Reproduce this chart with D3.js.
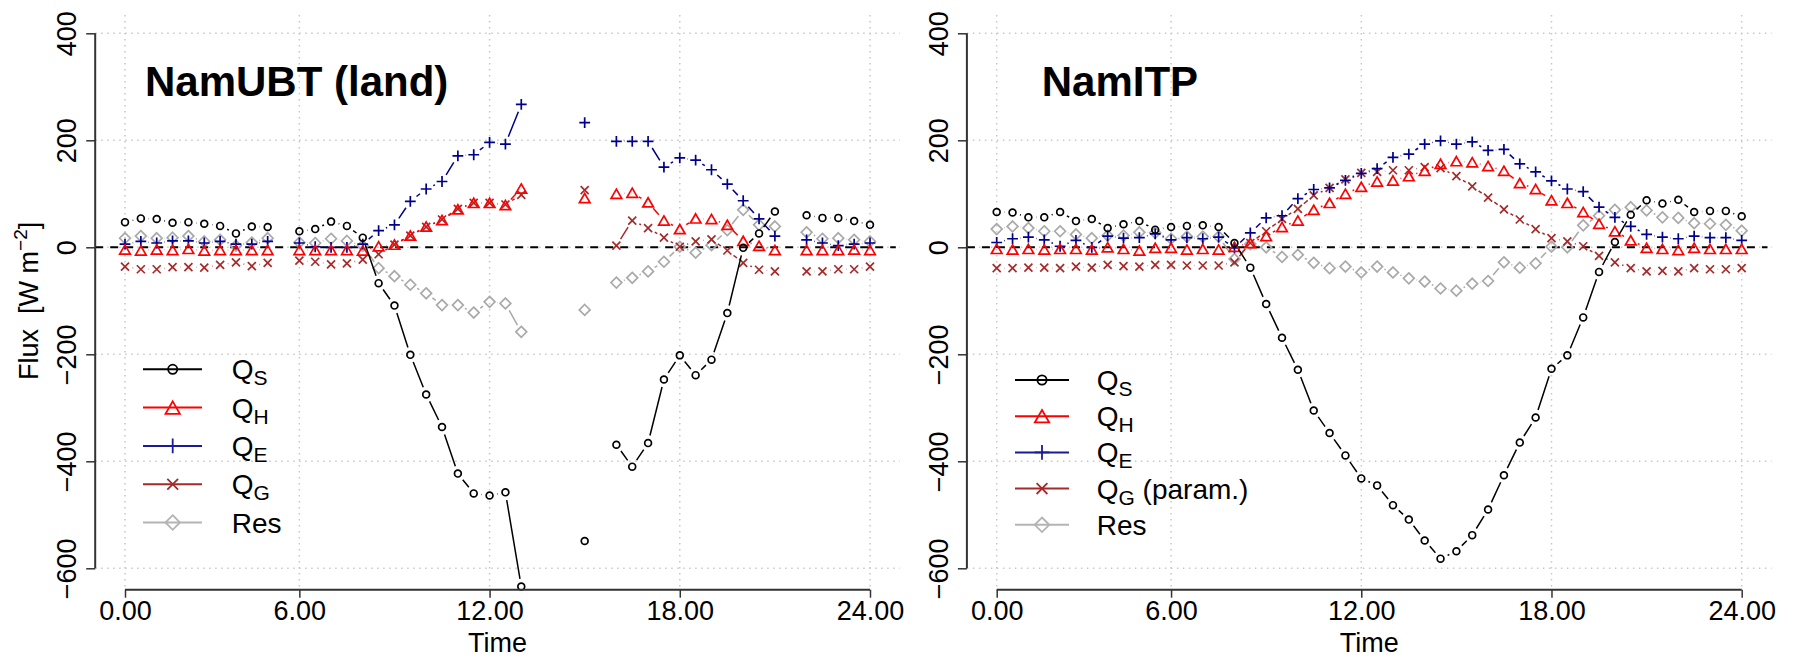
<!DOCTYPE html>
<html>
<head>
<meta charset="utf-8">
<script src="https://cdn.jsdelivr.net/npm/d3@7"></script>
<style>
  html, body { margin: 0; padding: 0; background: #fff; }
  svg text { font-family: "Liberation Sans", Arial, Helvetica, sans-serif; }
</style>
</head>
<body>
<svg id="chart" width="1796" height="659"></svg>
<script>
// Half-hourly slots of the diurnal cycle (1 = first record of the day)
const slot = [1,2,3,4,5,6,7,8,9,10,11,12,13,14,15,16,17,18,19,20,21,22,23,24,
              25,26,27,28,29,30,31,32,33,34,35,36,37,38,39,40,41,42,43,44,45,46,47,48];

// Axis ticks
const xTickAt = [1, 12, 24, 36, 48];
const xTickLabels = ["0.00", "6.00", "12.00", "18.00", "24.00"];
const yTickAt = [-600, -400, -200, 0, 200, 400];
const yTickLabels = ["\u2212600", "\u2212400", "\u2212200", "0", "200", "400"];

// NamUBT (land) fluxes, W m-2 (null = missing record)
const qsLand = [47,54,53,46,47,44,40,26,39,38,null,30,34,48,40,18,-67,-109,-201,-275,-336,-423,-460,-464,
                -458,-634,null,null,null,-549,null,-369,-410,-366,-247,-202,-239,-210,-123,-1,26,67,null,60,55,55,49,42];
const qhLand = [-4,-6,-4,-5,-3,-6,-5,-5,-5,-5,null,-5,-5,-5,-5,-6,2,5,22,39,51,71,83,83,
                79,110,null,null,null,92,null,100,102,84,50,34,54,53,42,12,3,-5,null,-5,-5,-5,-4,-5];
const qeLand = [6,11,8,12,12,8,11,6,6,11,null,8,1,0,0,6,31,42,86,109,123,171,173,196,
                193,267,null,null,null,233,null,198,198,198,150,167,163,145,118,87,53,21,null,14,8,3,6,8];
const qgLand = [-36,-41,-41,-37,-37,-38,-33,-28,-35,-29,null,-25,-27,-32,-30,-23,-13,5,22,38,52,72,83,83,
                80,98,null,null,null,107,null,3,50,36,18,1,11,15,-6,-29,-42,-45,null,-45,-45,-41,-41,-36];
const resLand = [17,21,17,18,21,11,14,3,9,17,null,9,8,16,12,3,-39,-54,-70,-86,-108,-108,-122,-102,
                 -105,-158,null,null,null,-117,null,-66,-57,-45,-27,1,-10,4,32,70,42,39,null,28,16,17,14,11];

// NamITP fluxes, W m-2 (ground heat flux parameterised)
const qsItp = [66,65,56,56,66,49,53,36,43,49,33,38,40,41,38,8,-38,-106,-169,-229,-305,-347,-389,-432,
               -445,-482,-509,-548,-582,-568,-538,-490,-426,-365,-318,-227,-202,-131,-46,10,61,88,82,89,66,68,68,58];
const qhItp = [-3,-4,-3,-4,-3,-3,-4,0,-3,-6,-1,-1,-4,-3,-4,1,8,21,38,50,70,83,100,113,
               123,125,133,143,156,161,159,152,143,120,109,88,83,66,44,30,13,-1,-3,-5,-1,-3,-3,-3];
const qeItp = [9,16,19,14,2,13,0,21,17,18,25,14,18,16,19,-1,27,55,59,91,108,111,125,138,
               147,168,174,193,199,193,197,181,183,156,141,124,109,104,75,56,39,24,19,16,21,18,18,13];
const qgItp = [-39,-39,-38,-38,-39,-36,-38,-33,-35,-36,-33,-33,-34,-34,-34,-28,8,30,53,72,97,111,127,139,
               141,144,144,150,148,133,114,93,71,52,34,17,11,2,-16,-28,-39,-45,-44,-45,-39,-41,-41,-39];
const resItp = [34,39,36,30,30,24,17,22,22,28,27,16,20,20,20,-22,6,0,-18,-14,-29,-39,-36,-47,
                -36,-47,-58,-64,-77,-81,-68,-63,-28,-38,-30,1,0,41,59,70,75,69,56,55,45,44,42,31];

// Series styling (drawing order: first drawn at the bottom)
const seriesStyle = {
  Res: { color: "#a9a9a9", legendColor: "#b4b4b4", shape: "diamond" },
  QG:  { color: "#a52a2a", legendColor: "#a52a2a", shape: "cross" },
  QE:  { color: "#00008b", legendColor: "#1a1a9a", shape: "plus" },
  QH:  { color: "#ff0000", legendColor: "#ff0000", shape: "triangle" },
  QS:  { color: "#000000", legendColor: "#000000", shape: "circle" }
};
const drawOrder = ["Res", "QG", "QE", "QH", "QS"];
const legendOrder = ["QS", "QH", "QE", "QG", "Res"];

const panels = [
  { title: "NamUBT (land)", titleX: 145, left: 95.2, right: 899.8, yTitle: true,
    data: { QS: qsLand, QH: qhLand, QE: qeLand, QG: qgLand, Res: resLand },
    legend: { x0: 143, x1: 202, mx: 172.7, tx: 231.7, y0: 369.3, dy: 38.3, fs: 28, gSuffix: "" } },
  { title: "NamITP", titleX: 1041.7, left: 966.9, right: 1771.5, yTitle: false,
    data: { QS: qsItp, QH: qhItp, QE: qeItp, QG: qgItp, Res: resItp },
    legend: { x0: 1015, x1: 1069, mx: 1042, tx: 1096.7, y0: 380, dy: 36.2, fs: 28, gSuffix: " (param.)" } }
];

const svg = d3.select("#chart");
svg.append("rect").attr("width", 1796).attr("height", 659).attr("fill", "#fff");

const yTop = 11.9, yBottom = 589.7;
const y = d3.scaleLinear().domain([-640, 440]).range([yBottom, yTop]);

const axisFont = 27;
const gridColor = "#c8c8c8";

function drawMarker(g, shape, cx, cy, k, color, sw) {
  const p = d3.path();
  if (shape === "circle") {
    g.append("circle").attr("cx", cx).attr("cy", cy).attr("r", 3.4 * k)
      .attr("fill", "none").attr("stroke", color).attr("stroke-width", sw);
    return;
  }
  if (shape === "triangle") {
    const hw = 5.3 * k, hh = 4.6 * k;
    p.moveTo(cx, cy - hh); p.lineTo(cx + hw, cy + hh); p.lineTo(cx - hw, cy + hh); p.closePath();
  } else if (shape === "plus") {
    const s = 5.4 * k;
    p.moveTo(cx - s, cy); p.lineTo(cx + s, cy); p.moveTo(cx, cy - s); p.lineTo(cx, cy + s);
  } else if (shape === "cross") {
    const s = 4.0 * k;
    p.moveTo(cx - s, cy - s); p.lineTo(cx + s, cy + s); p.moveTo(cx - s, cy + s); p.lineTo(cx + s, cy - s);
  } else if (shape === "diamond") {
    const s = 5.4 * k;
    p.moveTo(cx, cy - s); p.lineTo(cx + s, cy); p.lineTo(cx, cy + s); p.lineTo(cx - s, cy); p.closePath();
  }
  g.append("path").attr("d", p.toString()).attr("fill", "none")
    .attr("stroke", color).attr("stroke-width", sw).attr("stroke-linejoin", "miter");
}

panels.forEach(panel => {
  const x = d3.scaleLinear()
    .domain([1 - 0.04 * 47, 48 + 0.04 * 47])
    .range([panel.left, panel.right]);
  const g = svg.append("g");

  // dotted grid
  const grid = g.append("g").attr("stroke", gridColor).attr("stroke-width", 1.5)
    .attr("stroke-dasharray", "1.5 4.5").attr("fill", "none");
  xTickAt.forEach(t => grid.append("line")
    .attr("x1", x(t)).attr("x2", x(t)).attr("y1", yTop + 3).attr("y2", yBottom));
  yTickAt.forEach(t => grid.append("line")
    .attr("x1", panel.left).attr("x2", panel.right).attr("y1", y(t)).attr("y2", y(t)));

  // zero reference line
  g.append("line").attr("x1", panel.left).attr("x2", panel.right - 4)
    .attr("y1", y(0)).attr("y2", y(0))
    .attr("stroke", "#000").attr("stroke-width", 2).attr("stroke-dasharray", "8 7");

  // series: lines with gaps around the symbols, then symbols
  const gap = 7.8;
  drawOrder.forEach(key => {
    const st = seriesStyle[key];
    const vals = panel.data[key];
    const sg = g.append("g");
    const lp = d3.path();
    for (let i = 0; i < vals.length - 1; i++) {
      if (vals[i] == null || vals[i + 1] == null) continue;
      const x1 = x(slot[i]), y1 = y(vals[i]), x2 = x(slot[i + 1]), y2 = y(vals[i + 1]);
      const d = Math.hypot(x2 - x1, y2 - y1);
      if (d <= 2 * gap) continue;
      const ux = (x2 - x1) / d, uy = (y2 - y1) / d;
      lp.moveTo(x1 + ux * gap, y1 + uy * gap);
      lp.lineTo(x2 - ux * gap, y2 - uy * gap);
    }
    sg.append("path").attr("d", lp.toString()).attr("fill", "none")
      .attr("stroke", st.color).attr("stroke-width", 1.5);
    vals.forEach((v, i) => {
      if (v == null) return;
      drawMarker(sg, st.shape, x(slot[i]), y(v), 1, st.color, 1.7);
    });
  });

  // x axis
  const xAxis = d3.axisBottom(x).tickValues(xTickAt)
    .tickFormat((d, i) => xTickLabels[i]).tickSize(8).tickPadding(3);
  const gx = g.append("g").attr("transform", `translate(0,${yBottom})`).call(xAxis);
  gx.select(".domain").remove();
  gx.append("line").attr("x1", x(xTickAt[0])).attr("x2", x(xTickAt[xTickAt.length - 1]))
    .attr("y1", 0).attr("y2", 0).attr("stroke", "#333").attr("stroke-width", 2);
  gx.selectAll(".tick line").attr("stroke", "#333").attr("stroke-width", 1.5);
  gx.selectAll(".tick text").attr("fill", "#000").style("font-size", axisFont + "px")
    .style("font-family", '"Liberation Sans", Arial, sans-serif');

  // y axis, labels parallel to the axis
  const yAxis = d3.axisLeft(y).tickValues(yTickAt)
    .tickFormat((d, i) => yTickLabels[i]).tickSize(9);
  const gy = g.append("g").attr("transform", `translate(${panel.left},0)`).call(yAxis);
  gy.select(".domain").remove();
  gy.append("line").attr("x1", 0).attr("x2", 0)
    .attr("y1", y(yTickAt[yTickAt.length - 1])).attr("y2", y(yTickAt[0]))
    .attr("stroke", "#333").attr("stroke-width", 2);
  gy.selectAll(".tick line").attr("stroke", "#333").attr("stroke-width", 1.5);
  gy.selectAll(".tick text")
    .attr("transform", "rotate(-90)").attr("x", 0).attr("y", -19).attr("dy", 0)
    .attr("text-anchor", "middle").attr("fill", "#000")
    .style("font-size", axisFont + "px")
    .style("font-family", '"Liberation Sans", Arial, sans-serif');

  // axis titles
  g.append("text").attr("x", (panel.left + panel.right) / 2).attr("y", 652)
    .attr("text-anchor", "middle").style("font-size", axisFont + "px").text("Time");

  if (panel.yTitle) {
    const yt = g.append("text")
      .attr("transform", `translate(38,${(yTop + yBottom) / 2}) rotate(-90)`)
      .attr("text-anchor", "middle").style("font-size", axisFont + "px")
      .style("white-space", "pre");
    yt.append("tspan").text("Flux  [W m");
    yt.append("tspan").attr("dy", -11).style("font-size", "19px").text("\u22122");
    yt.append("tspan").attr("dy", 11).text("]");
  }

  // panel title
  g.append("text").attr("x", panel.titleX).attr("y", 95.7)
    .style("font-size", "42px").style("font-weight", "bold").text(panel.title);

  // legend
  const L = panel.legend;
  legendOrder.forEach((key, k) => {
    const st = seriesStyle[key];
    const cy = L.y0 + k * L.dy;
    g.append("line").attr("x1", L.x0).attr("x2", L.x1).attr("y1", cy).attr("y2", cy)
      .attr("stroke", st.legendColor).attr("stroke-width", 2);
    drawMarker(g, st.shape, L.mx, cy, 1.35, st.legendColor, 1.8);
    const t = g.append("text").attr("x", L.tx).attr("y", cy + 0.36 * L.fs)
      .style("font-size", L.fs + "px").style("white-space", "pre");
    if (key === "Res") {
      t.text("Res");
    } else {
      t.append("tspan").text("Q");
      t.append("tspan").attr("dy", 6).style("font-size", "21px").text(key.slice(1));
      if (key === "QG" && L.gSuffix) {
        t.append("tspan").attr("dy", -6).text(L.gSuffix);
      }
    }
  });
});
</script>
</body>
</html>
